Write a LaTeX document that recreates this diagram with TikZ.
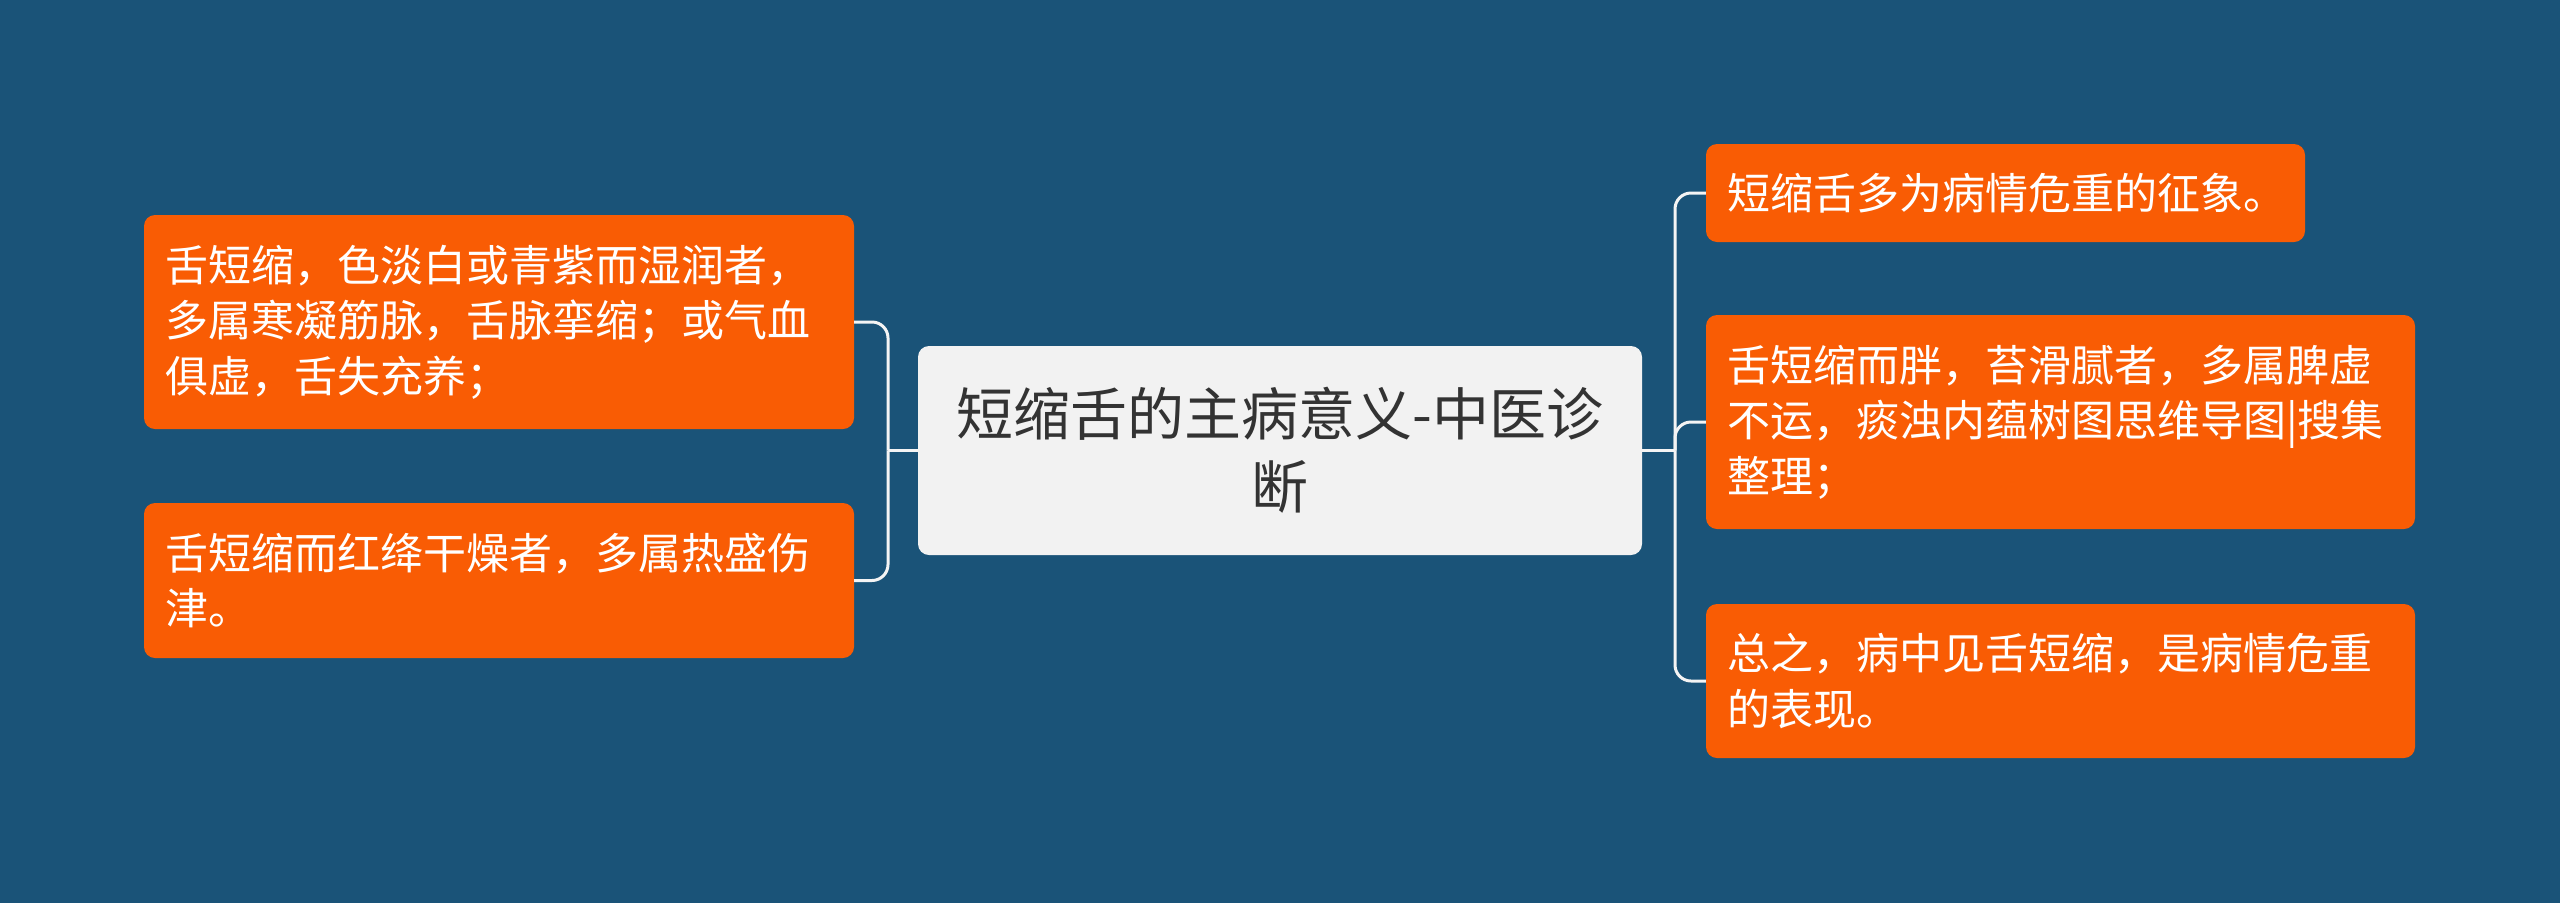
\documentclass[tikz,border=0pt]{standalone}
\usepackage{fontspec}
\setmainfont{Noto Sans CJK SC}
\definecolor{bg}{HTML}{1A5378}
\definecolor{orng}{HTML}{F95C04}
\definecolor{cfill}{HTML}{F2F2F2}
\definecolor{ctext}{HTML}{333333}
\definecolor{lnk}{HTML}{F4F4F4}
\begin{document}
\begin{tikzpicture}[x=1pt,y=-1pt,
  leaf/.style={fill=orng, rounded corners=11pt, text=white, align=left,
    inner xsep=21pt, inner ysep=0pt, font=\fontsize{43}{55.5}\selectfont},
  root/.style={fill=cfill, rounded corners=11pt, text=ctext, align=center,
    inner sep=0pt, font=\fontsize{57}{73}\selectfont},
  conn/.style={draw=lnk, line width=3pt, rounded corners=16pt}]
\fill[bg] (0,0) rectangle (2560,903);
\useasboundingbox (0,0) rectangle (2560,903);

\node[root, minimum width=724pt, minimum height=209pt, text width=700pt] (c) at (1280,450.5)
  {短缩舌的主病意义-中医诊\\断};

\node[leaf, minimum width=710pt, minimum height=214pt, text width=668pt] (n1) at (499,322)
  {舌短缩，色淡白或青紫而湿润者，\\多属寒凝筋脉，舌脉挛缩；或气血\\俱虚，舌失充养；};
\node[leaf, minimum width=710pt, minimum height=155pt, text width=668pt] (n2) at (499,580.5)
  {舌短缩而红绛干燥者，多属热盛伤\\津。};

\node[leaf, minimum width=599pt, minimum height=98pt, text width=557pt] (r1) at (2005.5,193)
  {短缩舌多为病情危重的征象。};
\node[leaf, minimum width=709pt, minimum height=214pt, text width=667pt] (r2) at (2060.5,422)
  {舌短缩而胖，苔滑腻者，多属脾虚\\不运，痰浊内蕴树图思维导图|搜集\\整理；};
\node[leaf, minimum width=709pt, minimum height=154pt, text width=667pt] (r3) at (2060.5,681)
  {总之，病中见舌短缩，是病情危重\\的表现。};

\coordinate (lj) at (888,450.5);
\coordinate (rj) at (1675,450.5);
\draw[conn] (c.west) -- (lj);
\draw[conn] (n1.east) -| (lj);
\draw[conn] (n2.east) -| (lj);
\draw[conn] (c.east) -- (rj);
\draw[conn] (rj) |- (r1.west);
\draw[conn] (rj) |- (r2.west);
\draw[conn] (rj) |- (r3.west);
\end{tikzpicture}
\end{document}
